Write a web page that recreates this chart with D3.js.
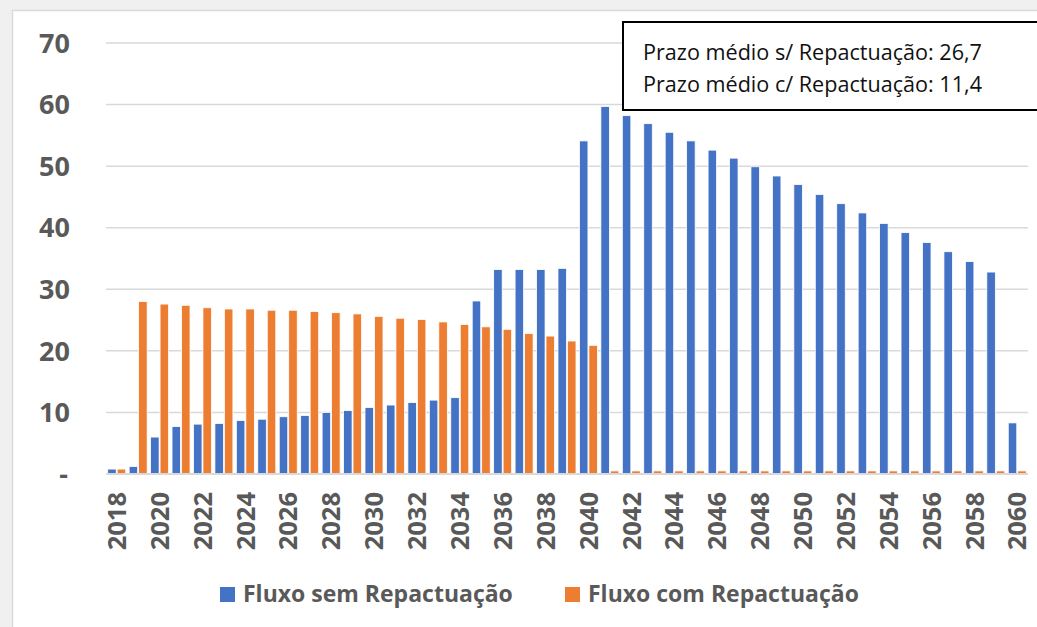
<!DOCTYPE html>
<html>
<head>
<meta charset="utf-8">
<script src="https://cdn.jsdelivr.net/npm/d3@7"></script>
<style>
  html, body { margin: 0; padding: 0; background: #f0f0f0; }
  svg { display: block; }
  text { font-variant-numeric: tabular-nums; font-feature-settings: "tnum" 1; }
</style>
</head>
<body>
<script>
// Anos (categorias)
const years = [2018, 2019, 2020, 2021, 2022, 2023, 2024, 2025, 2026, 2027,
  2028, 2029, 2030, 2031, 2032, 2033, 2034, 2035, 2036, 2037,
  2038, 2039, 2040, 2041, 2042, 2043, 2044, 2045, 2046, 2047,
  2048, 2049, 2050, 2051, 2052, 2053, 2054, 2055, 2056, 2057,
  2058, 2059, 2060];

// Fluxo sem Repactuação
const semRepactuacao = [0.8, 1.2, 6.0, 7.7, 8.1, 8.2, 8.7, 8.9, 9.3, 9.5,
  10.0, 10.3, 10.8, 11.2, 11.6, 12.0, 12.4, 28.1, 33.2, 33.2,
  33.2, 33.4, 54.1, 59.7, 58.2, 56.9, 55.5, 54.1, 52.6, 51.3,
  49.9, 48.4, 47.0, 45.4, 43.9, 42.4, 40.7, 39.2, 37.6, 36.1,
  34.5, 32.8, 8.3];

// Fluxo com Repactuação
const comRepactuacao = [0.8, 28.0, 27.6, 27.4, 27.0, 26.8, 26.8, 26.6, 26.6, 26.4,
  26.2, 26.0, 25.6, 25.3, 25.1, 24.7, 24.3, 23.9, 23.5, 22.8,
  22.4, 21.6, 20.9, 0.5, 0.5, 0.5, 0.5, 0.5, 0.5, 0.5,
  0.5, 0.5, 0.5, 0.5, 0.5, 0.5, 0.5, 0.5, 0.5, 0.5,
  0.5, 0.5, 0.5];

const seriesNames = ["Fluxo sem Repactuação", "Fluxo com Repactuação"];
const seriesColors = ["#4472C4", "#ED7D31"];
const yTicks = [0, 10, 20, 30, 40, 50, 60, 70];
const boxLines = ["Prazo médio s/ Repactuação: 26,7", "Prazo médio c/ Repactuação: 11,4"];

const width = 1037, height = 627;
const font = "'Open Sans', 'DejaVu Sans', sans-serif";
const textGray = "#595959";

const svg = d3.select("body").append("svg")
  .attr("width", width)
  .attr("height", height);

// chart area (white, light border)
svg.append("rect")
  .attr("x", 12.5).attr("y", 10.5)
  .attr("width", width).attr("height", height)
  .attr("fill", "#fff")
  .attr("stroke", "#d9d9d9")
  .attr("stroke-width", 1.5);

const x0 = d3.scaleBand().domain(years).range([106, 1028]).padding(0);
const x1 = d3.scaleBand().domain([0, 1]).range([1.7, 19.7]).paddingInner(0.1);
const y = d3.scaleLinear().domain([0, 70]).range([474, 43]);

// gridlines
svg.append("g")
  .selectAll("line")
  .data(yTicks.filter(d => d > 0))
  .join("line")
  .attr("x1", 106).attr("x2", 1028)
  .attr("y1", d => y(d)).attr("y2", d => y(d))
  .attr("stroke", "#d9d9d9")
  .attr("stroke-width", 1.5);

// y labels
svg.append("g")
  .selectAll("text")
  .data(yTicks)
  .join("text")
  .attr("x", d => d === 0 ? 68 : 70)
  .attr("y", d => y(d))
  .attr("dy", "0.36em")
  .attr("text-anchor", "end")
  .attr("font-family", font)
  .attr("font-weight", "bold")
  .attr("font-size", 27)
  .attr("fill", textGray)
  .text(d => d === 0 ? "-" : d);

// bars
const rows = years.map((yr, i) => ({ year: yr, values: [semRepactuacao[i], comRepactuacao[i]] }));

svg.append("g")
  .selectAll("g")
  .data(rows)
  .join("g")
  .attr("transform", d => `translate(${x0(d.year)},0)`)
  .selectAll("rect")
  .data(d => d.values.map((v, k) => ({ k, v })))
  .join("rect")
  .attr("x", d => x1(d.k))
  .attr("width", x1.bandwidth())
  .attr("y", d => y(d.v))
  .attr("height", d => y(0) - y(d.v))
  .attr("fill", d => seriesColors[d.k])
  .attr("stroke", "#fff")
  .attr("stroke-width", 0.8);

// x axis line
svg.append("line")
  .attr("x1", 106).attr("x2", 1028)
  .attr("y1", y(0)).attr("y2", y(0))
  .attr("stroke", "#d9d9d9")
  .attr("stroke-width", 2);

// x labels, every other year
svg.append("g")
  .selectAll("text")
  .data(years.filter((d, i) => i % 2 === 0))
  .join("text")
  .attr("transform", d => `translate(${x0(d) + x0.bandwidth() / 2},492) rotate(-90)`)
  .attr("dy", "0.36em")
  .attr("text-anchor", "end")
  .attr("font-family", font)
  .attr("font-weight", "bold")
  .attr("font-size", 25.5)
  .attr("fill", textGray)
  .text(d => d);

// legend
const legendX = [220, 565];
const legend = svg.append("g")
  .selectAll("g")
  .data(seriesNames)
  .join("g")
  .attr("transform", (d, i) => `translate(${legendX[i]},587)`);

legend.append("rect")
  .attr("width", 15).attr("height", 15)
  .attr("fill", (d, i) => seriesColors[i]);

legend.append("text")
  .attr("x", 23).attr("y", 15)
  .attr("font-family", font)
  .attr("font-weight", "bold")
  .attr("font-size", 23)
  .attr("fill", textGray)
  .text(d => d);

// text box
svg.append("rect")
  .attr("x", 623).attr("y", 22)
  .attr("width", 430).attr("height", 88)
  .attr("fill", "#fff")
  .attr("stroke", "#000")
  .attr("stroke-width", 2);

svg.append("g")
  .selectAll("text")
  .data(boxLines)
  .join("text")
  .attr("x", 643)
  .attr("y", (d, i) => 60 + i * 32)
  .attr("font-family", font)
  .attr("font-size", 21.6)
  .attr("fill", "#111")
  .text(d => d);
</script>
</body>
</html>
